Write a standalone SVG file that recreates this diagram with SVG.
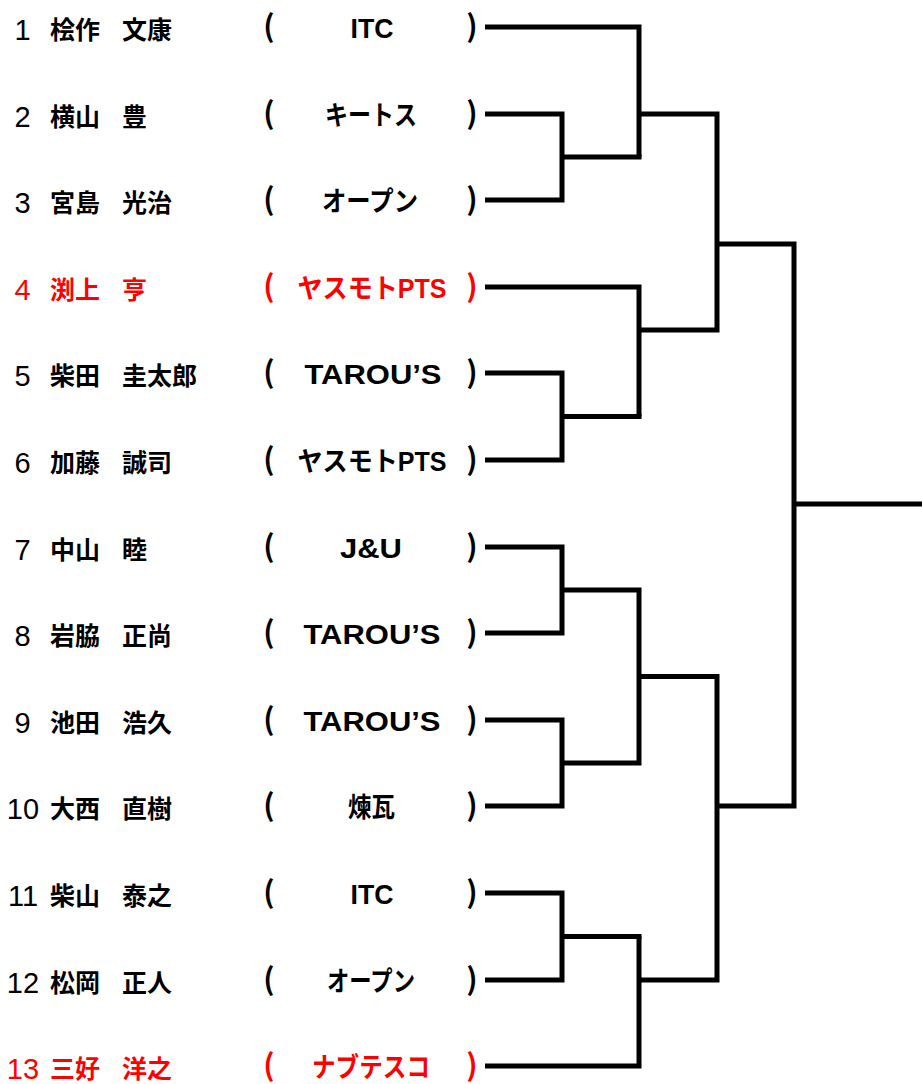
<svg xmlns="http://www.w3.org/2000/svg" width="922" height="1084" viewBox="0 0 922 1084">
<style>
text { font-family: "Liberation Sans", "Noto Sans CJK JP", sans-serif; fill: #000; }
.num { font-size: 29px; text-anchor: middle; }
.name { font-family: "Noto Sans CJK JP", sans-serif; font-size: 25px; font-weight: 700; }
.team { font-size: 27px; font-weight: 700; text-anchor: middle; }
.par { font-family: "Noto Sans CJK JP", sans-serif; font-size: 30px; font-weight: 700; text-anchor: middle; }
.red text, text.red { fill: #ff0000; }
.ln { fill: none; stroke: #000; stroke-width: 5; stroke-linejoin: miter; stroke-linecap: butt; }
</style>
<rect width="922" height="1084" fill="#fff"/>

<g id="p1" transform="translate(0,27)">
<text class="num" x="22.5" y="13">1</text>
<text class="name" x="50" y="12">桧作</text><text class="name" x="122" y="12">文康</text>
<text class="par" x="269" y="10">(</text>
<text class="team" x="372" y="11" textLength="43" lengthAdjust="spacingAndGlyphs">ITC</text>
<text class="par" x="472" y="10">)</text>
</g>
<g id="p2" transform="translate(0,114)">
<text class="num" x="22.5" y="13">2</text>
<text class="name" x="50" y="12">横山</text><text class="name" x="122" y="12">豊</text>
<text class="par" x="269" y="10">(</text>
<text class="team" x="371" y="11" textLength="92" lengthAdjust="spacingAndGlyphs">キートス</text>
<text class="par" x="472" y="10">)</text>
</g>
<g id="p3" transform="translate(0,200)">
<text class="num" x="22.5" y="13">3</text>
<text class="name" x="50" y="12">宮島</text><text class="name" x="122" y="12">光治</text>
<text class="par" x="269" y="10">(</text>
<text class="team" x="370" y="11" textLength="96" lengthAdjust="spacingAndGlyphs">オープン</text>
<text class="par" x="472" y="10">)</text>
</g>
<g id="p4" class="red" transform="translate(0,287)">
<text class="num" x="22.5" y="13">4</text>
<text class="name" x="50" y="12">渕上</text><text class="name" x="122" y="12">亨</text>
<text class="par" x="269" y="10">(</text>
<text class="team" x="372" y="11" textLength="149" lengthAdjust="spacingAndGlyphs">ヤスモトPTS</text>
<text class="par" x="472" y="10">)</text>
</g>
<g id="p5" transform="translate(0,373)">
<text class="num" x="22.5" y="13">5</text>
<text class="name" x="50" y="12">柴田</text><text class="name" x="122" y="12">圭太郎</text>
<text class="par" x="269" y="10">(</text>
<text class="team" x="373" y="11" textLength="137" lengthAdjust="spacingAndGlyphs">TAROU’S</text>
<text class="par" x="472" y="10">)</text>
</g>
<g id="p6" transform="translate(0,460)">
<text class="num" x="22.5" y="13">6</text>
<text class="name" x="50" y="12">加藤</text><text class="name" x="122" y="12">誠司</text>
<text class="par" x="269" y="10">(</text>
<text class="team" x="372" y="11" textLength="149" lengthAdjust="spacingAndGlyphs">ヤスモトPTS</text>
<text class="par" x="472" y="10">)</text>
</g>
<g id="p7" transform="translate(0,547)">
<text class="num" x="22.5" y="13">7</text>
<text class="name" x="50" y="12">中山</text><text class="name" x="122" y="12">睦</text>
<text class="par" x="269" y="10">(</text>
<text class="team" x="371" y="11" textLength="62" lengthAdjust="spacingAndGlyphs">J&amp;U</text>
<text class="par" x="472" y="10">)</text>
</g>
<g id="p8" transform="translate(0,633)">
<text class="num" x="22.5" y="13">8</text>
<text class="name" x="50" y="12">岩脇</text><text class="name" x="122" y="12">正尚</text>
<text class="par" x="269" y="10">(</text>
<text class="team" x="372" y="11" textLength="137" lengthAdjust="spacingAndGlyphs">TAROU’S</text>
<text class="par" x="472" y="10">)</text>
</g>
<g id="p9" transform="translate(0,720)">
<text class="num" x="22.5" y="13">9</text>
<text class="name" x="50" y="12">池田</text><text class="name" x="122" y="12">浩久</text>
<text class="par" x="269" y="10">(</text>
<text class="team" x="372" y="11" textLength="137" lengthAdjust="spacingAndGlyphs">TAROU’S</text>
<text class="par" x="472" y="10">)</text>
</g>
<g id="p10" transform="translate(0,806)">
<text class="num" x="23" y="13">10</text>
<text class="name" x="50" y="12">大西</text><text class="name" x="122" y="12">直樹</text>
<text class="par" x="269" y="10">(</text>
<text class="team" x="371.5" y="11" textLength="47" lengthAdjust="spacingAndGlyphs">煉瓦</text>
<text class="par" x="472" y="10">)</text>
</g>
<g id="p11" transform="translate(0,893)">
<text class="num" x="23" y="13">11</text>
<text class="name" x="50" y="12">柴山</text><text class="name" x="122" y="12">泰之</text>
<text class="par" x="269" y="10">(</text>
<text class="team" x="372" y="11" textLength="43" lengthAdjust="spacingAndGlyphs">ITC</text>
<text class="par" x="472" y="10">)</text>
</g>
<g id="p12" transform="translate(0,980)">
<text class="num" x="23" y="13">12</text>
<text class="name" x="50" y="12">松岡</text><text class="name" x="122" y="12">正人</text>
<text class="par" x="269" y="10">(</text>
<text class="team" x="371" y="11" textLength="88" lengthAdjust="spacingAndGlyphs">オープン</text>
<text class="par" x="472" y="10">)</text>
</g>
<g id="p13" class="red" transform="translate(0,1066)">
<text class="num" x="23" y="13">13</text>
<text class="name" x="50" y="12">三好</text><text class="name" x="122" y="12">洋之</text>
<text class="par" x="269" y="10">(</text>
<text class="team" x="371" y="11" textLength="118" lengthAdjust="spacingAndGlyphs">ナブテスコ</text>
<text class="par" x="472" y="10">)</text>
</g>

<g id="connectors">
<path class="ln" d="M485,27 H639 V157"/>
<path class="ln" d="M485,114 H562 V200 H485"/>
<path class="ln" d="M562,157 H641.5"/>
<path class="ln" d="M485,287 H639 V416.5"/>
<path class="ln" d="M485,373 H562 V460 H485"/>
<path class="ln" d="M562,416.5 H641.5"/>
<path class="ln" d="M639,114 H717 V330 H639"/>
<path class="ln" d="M485,547 H562 V633 H485"/>
<path class="ln" d="M485,720 H562 V806 H485"/>
<path class="ln" d="M562,590 H639 V763 H562"/>
<path class="ln" d="M485,893 H562 V980 H485"/>
<path class="ln" d="M562,936.5 H641.5"/>
<path class="ln" d="M485,1066 H639 V936.5"/>
<path class="ln" d="M639,676.5 H717 V980 H639"/>
<path class="ln" d="M717,244 H794 V806 H717"/>
<path class="ln" d="M794,504 H922"/>
</g>
</svg>
